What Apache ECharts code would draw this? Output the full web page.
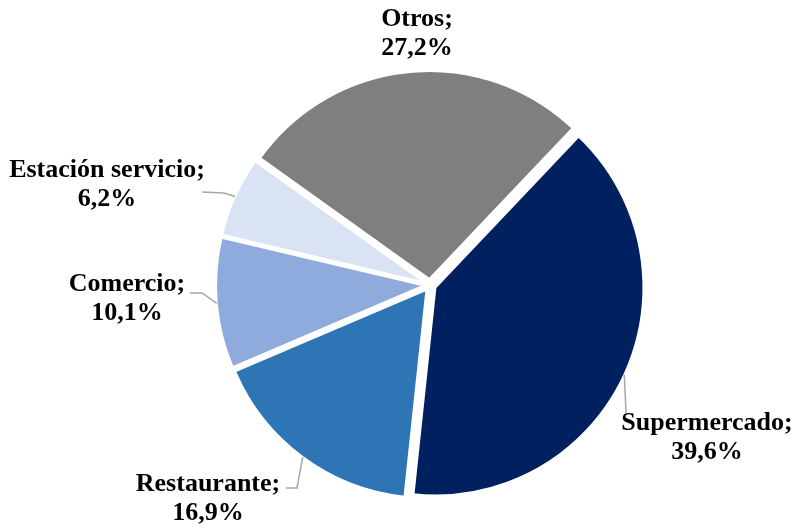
<!DOCTYPE html>
<html>
<head>
<meta charset="utf-8">
<script src="https://cdn.jsdelivr.net/npm/echarts@6/dist/echarts.min.js"></script>
<style>html,body{margin:0;padding:0;background:#fff}#c{width:793px;height:532px}</style>
</head>
<body>
<div id="c"></div>
<script>
var categories = ['Supermercado', 'Restaurante', 'Comercio', 'Estación servicio', 'Otros'];
var values = [39.6, 16.9, 10.1, 6.2, 27.2];
var colors = ['#002060', '#2E75B6', '#8FAADC', '#DAE3F3', '#7F7F7F'];
// layout only: label block anchor (center x, top y) and leader-line bend/end points
var labelPos = [[707, 409], [208, 470], [127, 270], [107, 156], [417, 5]];
var leaderPts = [[[626, 413]], [[297, 488], [286, 488]], [[202, 293], [190, 293]], [[224, 193], [202, 192]], null];

var OFFSET = 6;
var chart = echarts.init(document.getElementById('c'), null, {renderer: 'canvas'});
var pieData = categories.map(function (c, i) {
  return {name: c, value: values[i], selected: true, itemStyle: {color: colors[i]}};
});
var option = {
  animation: false,
  backgroundColor: '#ffffff',
  series: [{
    type: 'pie',
    center: [430, 285],
    radius: 208,
    startAngle: 46.5,
    clockwise: true,
    selectedMode: 'multiple',
    selectedOffset: OFFSET,
    emphasis: {disabled: true},
    itemStyle: {borderColor: '#ffffff', borderWidth: 2},
    label: {show: false},
    labelLine: {show: false},
    data: pieData
  }]
};
chart.setOption(option);

function fmt(v) { return v.toFixed(1).replace('.', ','); }

var graphics = [];
var sData = chart.getModel().getSeriesByIndex(0).getData();
categories.forEach(function (c, i) {
  graphics.push({
    type: 'text',
    x: labelPos[i][0],
    y: labelPos[i][1],
    z: 100,
    style: {
      text: c + ';\n' + fmt(values[i]) + '%',
      fill: '#000000',
      fontFamily: 'Liberation Serif',
      fontWeight: 'bold',
      fontSize: 26,
      lineHeight: 29,
      align: 'center',
      verticalAlign: 'top'
    }
  });
  if (leaderPts[i]) {
    var lay = sData.getItemLayout(i);
    var mid = (lay.startAngle + lay.endAngle) / 2;
    var r = lay.r;
    var ex = lay.cx + Math.cos(mid) * (r + OFFSET);
    var ey = lay.cy + Math.sin(mid) * (r + OFFSET);
    var pts = [[ex, ey]].concat(leaderPts[i]);
    graphics.push({
      type: 'polyline',
      z: 99,
      shape: {points: pts},
      style: {stroke: '#A6A6A6', lineWidth: 1.5, fill: null}
    });
  }
});
chart.setOption({graphic: graphics});
</script>
</body>
</html>
